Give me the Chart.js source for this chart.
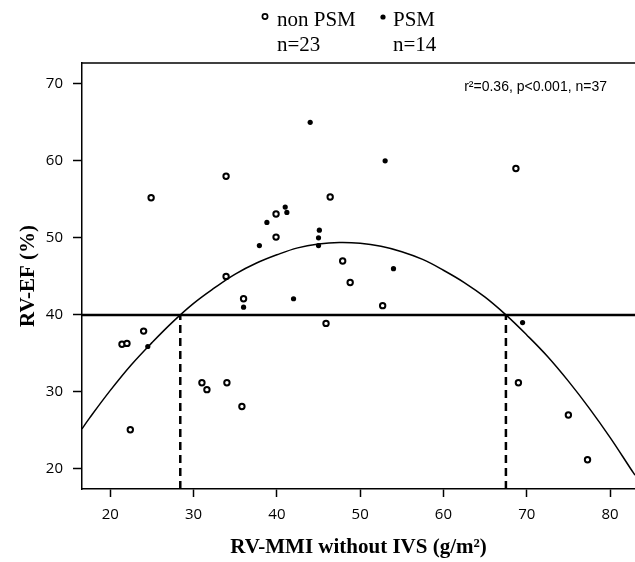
<!DOCTYPE html>
<html><head><meta charset="utf-8">
<script src="https://cdn.jsdelivr.net/npm/chart.js@4"></script>
<style>html,body{margin:0;padding:0;background:#fff;overflow:hidden}#wrap{width:635px;height:562px;position:relative}</style>
</head><body><div id="wrap"><canvas id="c" width="635" height="562"></canvas></div>
<script>
// axis limits and ticks
const xMin = 16.6, xMax = 83.0, yMin = 17.4, yMax = 72.7;
const xTicks = [20, 30, 40, 50, 60, 70, 80];
const yTicks = [20, 30, 40, 50, 60, 70];

// non PSM (open circles), n=23
const nonPsmX = [24.9, 33.9, 46.4, 39.9, 39.9, 47.9, 48.8, 33.9, 36.0, 52.7, 45.9, 24.0, 21.4, 22.0, 31.0, 31.6, 34.0, 35.8, 22.4, 68.7, 69.0, 75.0, 77.3];
const nonPsmY = [55.2, 58.0, 55.3, 53.1, 50.1, 47.0, 44.2, 45.0, 42.1, 41.2, 38.9, 37.9, 36.2, 36.3, 31.2, 30.3, 31.2, 28.1, 25.1, 59.0, 31.2, 27.0, 21.2];

// PSM (filled dots), n=14
const psmX = [44.0, 53.0, 41.0, 41.2, 38.8, 45.1, 45.0, 37.9, 45.0, 54.0, 36.0, 42.0, 24.5, 69.5];
const psmY = [65.0, 60.0, 54.0, 53.3, 52.0, 51.0, 50.0, 49.0, 49.0, 46.0, 41.0, 42.1, 35.9, 39.0];

// quadratic fit curve
const fitX = [16.6, 17.5, 20, 22.5, 25, 27.5, 30, 32.5, 35, 37.5, 40, 42.5, 45, 47.5, 50, 52.5, 55, 57.5, 60, 62.5, 65, 67.5, 70, 72.5, 75, 77.5, 80, 82.5, 83];
const fitY = [25.2, 26.6, 30.2, 33.5, 36.4, 39.1, 41.5, 43.5, 45.3, 46.7, 47.8, 48.7, 49.2, 49.4, 49.3, 48.9, 48.2, 47.2, 45.8, 44.2, 42.3, 40.0, 37.4, 34.6, 31.4, 27.9, 24.1, 20.0, 19.2];

// reference line and cut-offs
const thresholdEF = 40;
const cutoffX = [28.4, 67.5];

const legendLabels = ['non PSM', 'PSM'];
const legendCounts = ['n=23', 'n=14'];
const statsText = 'r\u00B2=0.36, p<0.001, n=37';
const xTitle = 'RV-MMI without IVS (g/m\u00B2)';
const yTitle = 'RV-EF (%)';

const toPts = (xs, ys) => xs.map((x, i) => ({x: x, y: ys[i]}));

const datasets = [
  {label: legendLabels[0], data: toPts(nonPsmX, nonPsmY), showLine: false, order: 0,
   pointStyle: 'circle', pointRadius: 2.7, pointBorderWidth: 2, pointBackgroundColor: '#fff', pointBorderColor: '#000'},
  {label: legendLabels[1], data: toPts(psmX, psmY), showLine: false, order: 0,
   pointStyle: 'circle', pointRadius: 2.6, pointBorderWidth: 0, pointBackgroundColor: '#000', pointBorderColor: '#000'},
  {label: 'fit', data: toPts(fitX, fitY), showLine: true, order: 2, pointRadius: 0,
   borderColor: '#000', borderWidth: 1.5, tension: 0.4, fill: false},
  {label: 'threshold', data: [{x: xMin, y: thresholdEF}, {x: xMax, y: thresholdEF}], showLine: true, order: 3,
   pointRadius: 0, borderColor: '#000', borderWidth: 2.5, fill: false}
];
cutoffX.forEach((cx, i) => datasets.push({
  label: 'cut' + i, data: [{x: cx, y: yMin}, {x: cx, y: thresholdEF}], showLine: true, order: 4,
  pointRadius: 0, borderColor: '#000', borderWidth: 2.5, borderDash: [8, 5], fill: false
}));

const decor = {
  id: 'decor',
  afterDraw(chart) {
    const {ctx, chartArea: a} = chart;
    ctx.save();
    ctx.strokeStyle = '#000';
    ctx.lineWidth = 1.5;
    ctx.beginPath(); ctx.moveTo(a.left - 0.75, a.top); ctx.lineTo(a.right, a.top); ctx.stroke();
    ctx.fillStyle = '#000';
    ctx.font = '14px "Liberation Sans"';
    ctx.textAlign = 'right';
    ctx.textBaseline = 'alphabetic';
    ctx.fillText(statsText, a.right - 28, a.top + 28);
    // legend
    ctx.textAlign = 'left';
    ctx.font = '21px "Liberation Serif"';
    const lx = [277, 393];
    ctx.lineWidth = 1.7;
    ctx.beginPath(); ctx.arc(lx[0] - 12, 16.5, 2.6, 0, Math.PI * 2); ctx.stroke();
    ctx.beginPath(); ctx.arc(lx[1] - 10, 17, 2.6, 0, Math.PI * 2); ctx.fill();
    legendLabels.forEach((t, i) => ctx.fillText(t, lx[i], 26));
    legendCounts.forEach((t, i) => ctx.fillText(t, lx[i], 51));
    ctx.restore();
  }
};

new Chart(document.getElementById('c'), {
  type: 'scatter',
  data: {datasets},
  plugins: [decor],
  options: {
    responsive: false,
    animation: false,
    devicePixelRatio: 1,
    layout: {autoPadding: false, padding: {top: 63, left: 0, right: 0, bottom: 0}},
    plugins: {legend: {display: false}, tooltip: {enabled: false}},
    scales: {
      x: {
        type: 'linear', min: xMin, max: xMax,
        afterBuildTicks: s => { s.ticks = xTicks.map(v => ({value: v})); },
        afterFit: s => { s.height = 73; s.paddingLeft = 0; s.paddingRight = 0; },
        grid: {drawOnChartArea: false, drawTicks: true, tickLength: 8, color: '#000', tickColor: '#000', tickWidth: 1.5},
        border: {display: true, color: '#000', width: 1.5},
        ticks: {color: '#000', font: {family: 'Open Sans', size: 15}, padding: 9, maxRotation: 0, autoSkip: false},
        title: {display: true, text: xTitle, color: '#000', font: {family: 'Liberation Serif', size: 21, weight: 'bold'}, padding: {top: 0, bottom: 2}}
      },
      y: {
        type: 'linear', min: yMin, max: yMax,
        afterBuildTicks: s => { s.ticks = yTicks.map(v => ({value: v})); },
        afterFit: s => { s.width = 82; s.paddingTop = 0; s.paddingBottom = 0; },
        grid: {drawOnChartArea: false, drawTicks: true, tickLength: 9, color: '#000', tickColor: '#000', tickWidth: 1.5},
        border: {display: true, color: '#000', width: 1.5},
        ticks: {color: '#000', font: {family: 'Open Sans', size: 15}, padding: 10, autoSkip: false},
        title: {display: true, text: yTitle, color: '#000', font: {family: 'Liberation Serif', size: 21, weight: 'bold'}, padding: {top: 16, bottom: 0}}
      }
    }
  }
});
</script>
</body></html>
